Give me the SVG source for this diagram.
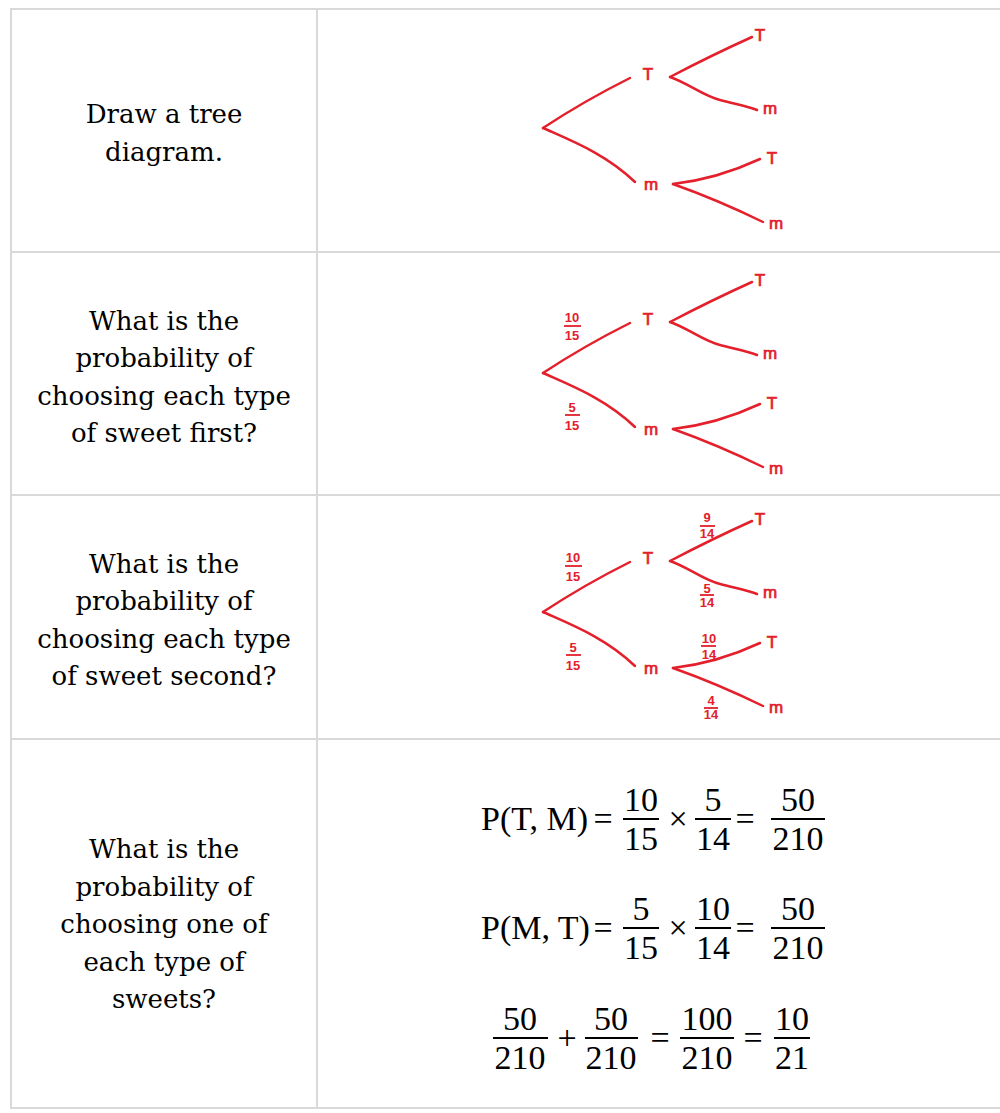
<svg xmlns="http://www.w3.org/2000/svg" width="1000" height="1113" viewBox="0 0 1000 1113">
<style>
.grid{stroke:#d9d9d9;stroke-width:2;fill:none}
.q{font-family:"DejaVu Serif","Liberation Serif",serif;font-size:26px;fill:#000;text-anchor:middle}
.br{stroke:#e3202b;stroke-width:2.5;fill:none;stroke-linecap:round;stroke-linejoin:round}
.lb{font-family:"Liberation Sans","DejaVu Sans",sans-serif;font-size:17px;fill:#e3202b;text-anchor:middle;stroke:#e3202b;stroke-width:0.7}
.fr{font-family:"Liberation Sans","DejaVu Sans",sans-serif;font-size:13px;font-weight:bold;fill:#e3202b;text-anchor:middle}
.fb{stroke:#e3202b;stroke-width:1.8}
.m{font-family:"Liberation Serif","DejaVu Serif",serif;font-size:34px;fill:#000}
.mc{text-anchor:middle}
.bar{stroke:#000;stroke-width:2}
</style>
<rect width="1000" height="1113" fill="#fff"/>
<g id="table">
<line class="grid" x1="10" y1="9" x2="1000" y2="9"/>
<line class="grid" x1="10" y1="252" x2="1000" y2="252"/>
<line class="grid" x1="10" y1="495" x2="1000" y2="495"/>
<line class="grid" x1="10" y1="739" x2="1000" y2="739"/>
<line class="grid" x1="10" y1="1108" x2="1000" y2="1108"/>
<line class="grid" x1="11" y1="8" x2="11" y2="1109"/>
<line class="grid" x1="317" y1="8" x2="317" y2="1109"/>
</g>
<g id="q1">
<text class="q" x="164" y="123">Draw a tree</text>
<text class="q" x="164" y="161">diagram.</text>
</g>
<g id="q2">
<text class="q" x="164" y="330">What is the</text>
<text class="q" x="164" y="367">probability of</text>
<text class="q" x="164" y="405">choosing each type</text>
<text class="q" x="164" y="442">of sweet first?</text>
</g>
<g id="q3">
<text class="q" x="164" y="573">What is the</text>
<text class="q" x="164" y="610">probability of</text>
<text class="q" x="164" y="648">choosing each type</text>
<text class="q" x="164" y="685">of sweet second?</text>
</g>
<g id="q4">
<text class="q" x="164" y="858">What is the</text>
<text class="q" x="164" y="896">probability of</text>
<text class="q" x="164" y="933">choosing one of</text>
<text class="q" x="164" y="971">each type of</text>
<text class="q" x="164" y="1008">sweets?</text>
</g>
<defs>
<g id="treeBase">
<g class="connectors">
<path class="br" d="M543,128 Q584,101 630,78"/>
<path class="br" d="M543,128 C572,141 606,154 635,182"/>
<path class="br" d="M670,77 Q712,55 752,37"/>
<path class="br" d="M670,77 C688,83 703,96 720,100 C735,104 746,106 757,110"/>
<path class="br" d="M673,184 Q717,179 760,159"/>
<path class="br" d="M673,184 Q718,200 763,222"/>
</g>
<text class="lb" x="648" y="80">T</text>
<text class="lb" x="651" y="190">m</text>
<text class="lb" x="760" y="41">T</text>
<text class="lb" x="770" y="114">m</text>
<text class="lb" x="772" y="164">T</text>
<text class="lb" x="776" y="229">m</text>
</g>
</defs>
<g id="tree1"><use href="#treeBase"/></g>
<g id="tree2">
<use href="#treeBase" transform="translate(0,245)"/>
<g id="tree2-fracs">
<text class="fr" x="572" y="322">10</text><line class="fb" x1="564" y1="326" x2="581" y2="326"/><text class="fr" x="572" y="340">15</text>
<text class="fr" x="572" y="412">5</text><line class="fb" x1="565" y1="415" x2="580" y2="415"/><text class="fr" x="572" y="430">15</text>
</g>
</g>
<g id="tree3">
<use href="#treeBase" transform="translate(0,484)"/>
<g id="tree3-fracs">
<text class="fr" x="573" y="562">10</text><line class="fb" x1="565" y1="566" x2="582" y2="566"/><text class="fr" x="573" y="581">15</text>
<text class="fr" x="573" y="652">5</text><line class="fb" x1="566" y1="655" x2="581" y2="655"/><text class="fr" x="573" y="670">15</text>
<text class="fr" x="707" y="522">9</text><line class="fb" x1="700" y1="526" x2="715" y2="526"/><text class="fr" x="707" y="538">14</text>
<text class="fr" x="707" y="593">5</text><line class="fb" x1="700" y1="595" x2="714" y2="595"/><text class="fr" x="707" y="607">14</text>
<text class="fr" x="709" y="643">10</text><line class="fb" x1="701" y1="646" x2="716" y2="646"/><text class="fr" x="709" y="659">14</text>
<text class="fr" x="711" y="705">4</text><line class="fb" x1="704" y1="708" x2="718" y2="708"/><text class="fr" x="711" y="719">14</text>
</g>
</g>
<g id="eq1">
<text class="m" x="481" y="830">P(T, M)</text>
<text class="m mc" x="603" y="830">=</text>
<text class="m mc" x="641" y="811">10</text><line class="bar" x1="623" y1="819" x2="659" y2="819"/><text class="m mc" x="641" y="850">15</text>
<text class="m mc" x="678" y="830">×</text>
<text class="m mc" x="713" y="811">5</text><line class="bar" x1="695" y1="819" x2="731" y2="819"/><text class="m mc" x="713" y="850">14</text>
<text class="m mc" x="745" y="830">=</text>
<text class="m mc" x="798" y="811">50</text><line class="bar" x1="771" y1="819" x2="825" y2="819"/><text class="m mc" x="798" y="850">210</text>
</g>
<g id="eq2">
<text class="m" x="481" y="939">P(M, T)</text>
<text class="m mc" x="603" y="939">=</text>
<text class="m mc" x="641" y="920">5</text><line class="bar" x1="623" y1="928" x2="659" y2="928"/><text class="m mc" x="641" y="959">15</text>
<text class="m mc" x="678" y="939">×</text>
<text class="m mc" x="713" y="920">10</text><line class="bar" x1="695" y1="928" x2="731" y2="928"/><text class="m mc" x="713" y="959">14</text>
<text class="m mc" x="745" y="939">=</text>
<text class="m mc" x="798" y="920">50</text><line class="bar" x1="771" y1="928" x2="825" y2="928"/><text class="m mc" x="798" y="959">210</text>
</g>
<g id="eq3">
<text class="m mc" x="520" y="1030">50</text><line class="bar" x1="493" y1="1038" x2="548" y2="1038"/><text class="m mc" x="520" y="1069">210</text>
<text class="m mc" x="567" y="1049">+</text>
<text class="m mc" x="611" y="1030">50</text><line class="bar" x1="585" y1="1038" x2="638" y2="1038"/><text class="m mc" x="611" y="1069">210</text>
<text class="m mc" x="660" y="1049">=</text>
<text class="m mc" x="707" y="1030">100</text><line class="bar" x1="680" y1="1038" x2="734" y2="1038"/><text class="m mc" x="707" y="1069">210</text>
<text class="m mc" x="753" y="1049">=</text>
<text class="m mc" x="792" y="1030">10</text><line class="bar" x1="774" y1="1038" x2="810" y2="1038"/><text class="m mc" x="792" y="1069">21</text>
</g>
</svg>
